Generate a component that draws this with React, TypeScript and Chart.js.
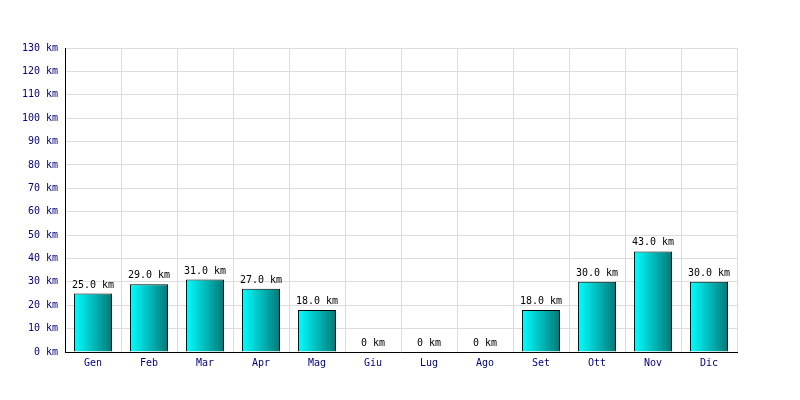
import React, { useEffect, useRef } from "react";
import { Chart, registerables } from "chart.js";

Chart.register(...registerables);

const months = ["Gen", "Feb", "Mar", "Apr", "Mag", "Giu", "Lug", "Ago", "Set", "Ott", "Nov", "Dic"];
const distances = [25, 29, 31, 27, 18, 0, 0, 0, 18, 30, 43, 30];
const yMax = 130;
const yStep = 10;

const FONT = "'DejaVu Sans Mono', monospace";
const BAR_PCT = 0.68;

const barGradient = (c: any) => {
  const chart = c.chart;
  const xs = chart.scales && chart.scales.x;
  if (!xs || c.dataIndex === undefined) return "#00c0c0";
  const center = xs.getPixelForValue(c.dataIndex);
  const w = (xs.width / months.length) * BAR_PCT;
  if (!isFinite(center) || !isFinite(w) || w <= 0) return "#00c0c0";
  const g = chart.ctx.createLinearGradient(center - w / 2, 0, center + w / 2, 0);
  g.addColorStop(0, "#00ffff");
  g.addColorStop(1, "#007878");
  return g;
};

const labelPlugin = {
  id: "barLabels",
  afterDatasetsDraw(chart: any) {
    const ctx = chart.ctx;
    ctx.save();
    ctx.font = `10px ${FONT}`;
    ctx.fillStyle = "#000000";
    ctx.textAlign = "center";
    ctx.textBaseline = "alphabetic";
    const meta = chart.getDatasetMeta(0);
    meta.data.forEach((el: any, i: number) => {
      const v = distances[i];
      const text = v === 0 ? "0 km" : `${v.toFixed(1)} km`;
      ctx.fillText(text, el.x, el.y - 6);
    });
    ctx.restore();
  },
};

export default function App() {
  const ref = useRef<HTMLCanvasElement | null>(null);
  useEffect(() => {
    document.body.style.margin = "0";
    const chart = new Chart(ref.current!, {
      type: "bar",
      data: {
        labels: months,
        datasets: [
          {
            data: distances,
            backgroundColor: barGradient,
            borderColor: "#000000",
            borderWidth: 1,
            borderSkipped: "bottom",
            barPercentage: BAR_PCT,
            categoryPercentage: 1,
          },
        ],
      },
      options: {
        responsive: false,
        animation: false,
        maintainAspectRatio: false,
        layout: { padding: { top: 48, right: 63, left: 0, bottom: 0 } },
        plugins: { legend: { display: false }, tooltip: { enabled: false } },
        scales: {
          x: {
            offset: true,
            grid: { color: "#dcdcdc", offset: true, drawTicks: false },
            border: { color: "#000000", width: 1 },
            ticks: { color: "#000080", font: { family: FONT, size: 10 }, padding: 5 },
            afterFit: (s: any) => {
              s.height = 48;
            },
          },
          y: {
            min: 0,
            max: yMax,
            grid: { color: "#dcdcdc", drawTicks: false },
            border: { color: "#000000", width: 1 },
            ticks: {
              stepSize: yStep,
              color: "#000080",
              font: { family: FONT, size: 10 },
              padding: 7,
              callback: (v: any) => `${v} km`,
            },
            afterFit: (s: any) => {
              s.width = 65;
            },
          },
        },
      },
      plugins: [labelPlugin],
    });
    return () => chart.destroy();
  }, []);
  return (
    <div style={{ width: 800, height: 400, background: "#fff" }}>
      <canvas ref={ref} width={800} height={400} style={{ display: "block" }} />
    </div>
  );
}
